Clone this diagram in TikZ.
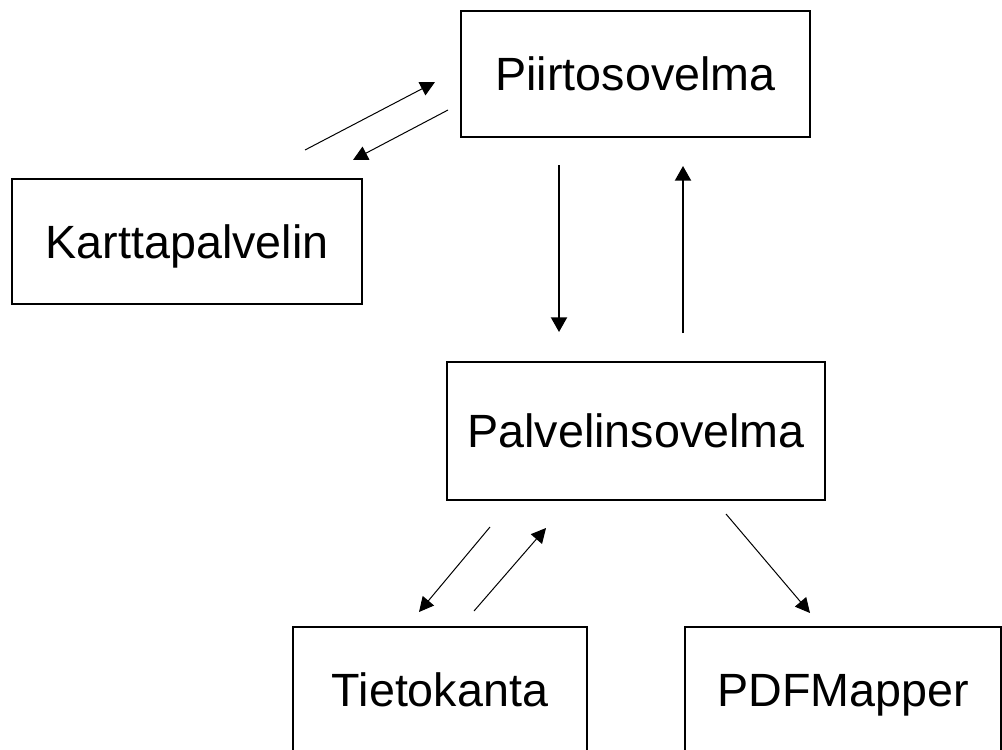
\documentclass[tikz,border=0pt]{standalone}
\usepackage{fontspec}
\setmainfont{Liberation Sans}
\usetikzlibrary{positioning,calc,arrows.meta}
\tikzset{
    module/.style={draw=black, line width=1.5pt, rectangle, sharp corners,
                   inner sep=0pt, text height=25pt, text depth=0pt,
                   font=\fontsize{35}{40}\selectfont},
    % Arrow styles
    call/.style={-{Triangle[length=11pt, width=11pt]}, line width=0.75pt},
    callthick/.style={-{Triangle[length=11pt, width=12pt]}, line width=1.5pt}
}
\begin{document}
\begin{tikzpicture}[x=0.75pt, y=-0.75pt]
    \useasboundingbox (0,0) rectangle (1002,749);
    \clip (0,0) rectangle (1002,749);

    % Boxes
    \node[module, minimum width=349*0.75pt, minimum height=126*0.75pt] (piirto) at (635.5,74) {Piirtosovelma};
    \node[module, minimum width=350*0.75pt, minimum height=125*0.75pt] (kartta) at (187,241.5) {Karttapalvelin};
    \node[module, minimum width=378*0.75pt, minimum height=138*0.75pt] (palvelin) at (636,431) {Palvelinsovelma};
    \node[module, minimum width=294*0.75pt, minimum height=126*0.75pt] (tieto) at (440,690) {Tietokanta};
    \node[module, minimum width=316*0.75pt, minimum height=126*0.75pt] (pdf) at (843,690) {PDFMapper};

    % Arrow end points
    \coordinate (k1) at (305,150);
    \coordinate (p1) at (435,82);
    \coordinate (p2) at (448,110);
    \coordinate (k2) at (353,160);
    \coordinate (pd) at (559,165);
    \coordinate (ps) at (559,332);
    \coordinate (pu) at (683,333);
    \coordinate (pt) at (683,166);
    \coordinate (t1) at (490,527);
    \coordinate (t2) at (419,612);
    \coordinate (t3) at (474,611);
    \coordinate (t4) at (546,528);
    \coordinate (m1) at (726,514);
    \coordinate (m2) at (810,613);

    % Connections
    \draw[call] (k1) -- (p1);
    \draw[call] (p2) -- (k2);
    \draw[callthick] (pd) -- (ps);
    \draw[callthick] (pu) -- (pt);
    \draw[call] (t1) -- (t2);
    \draw[call] (t3) -- (t4);
    \draw[call] (m1) -- (m2);
\end{tikzpicture}
\end{document}
